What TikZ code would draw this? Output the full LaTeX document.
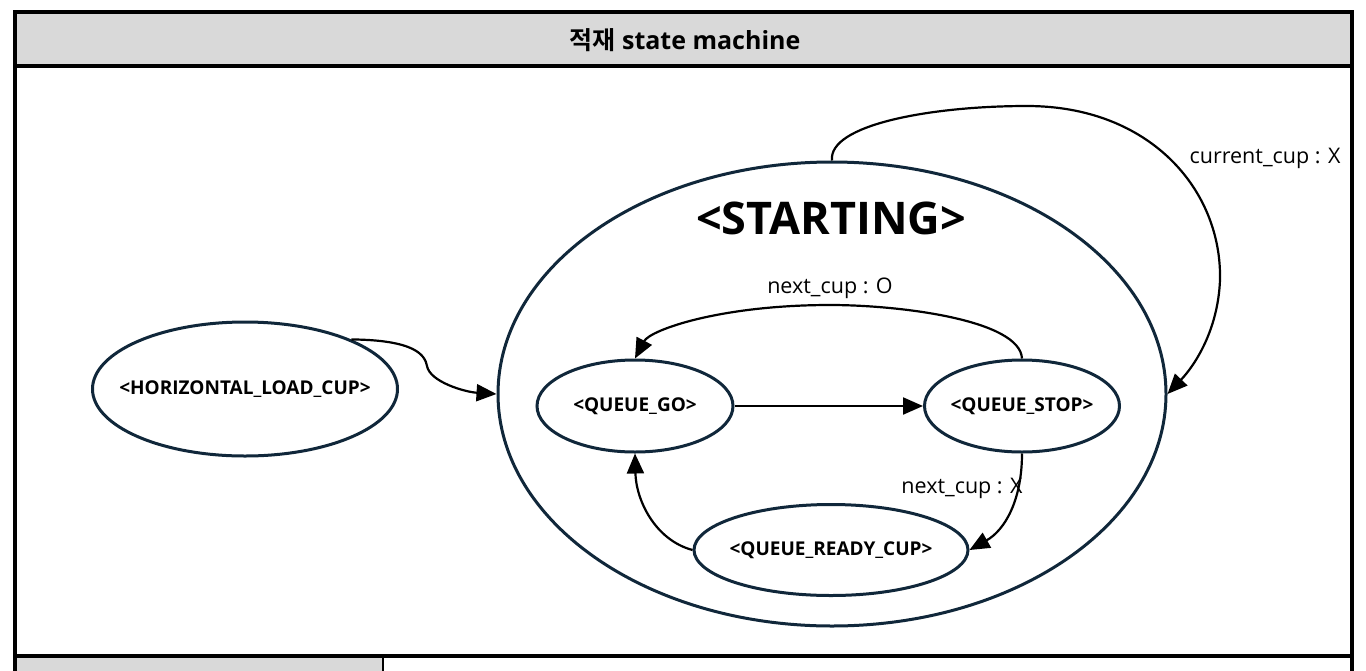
\documentclass[tikz,border=0pt]{standalone}
\usepackage{fontspec}
\setmainfont{Open Sans}
\newfontfamily\kr{Noto Sans CJK KR}[BoldFont={Noto Sans CJK KR Bold}]
\usetikzlibrary{shapes.geometric,arrows.meta}
\definecolor{navy}{HTML}{10273A}
\definecolor{hdr}{HTML}{D9D9D9}
\tikzset{
  st/.style={ellipse,draw=navy,line width=3pt,inner sep=0pt},
  sttext/.style={font=\bfseries\fontsize{19}{21}\selectfont,inner sep=0pt},
  conn/.style={draw=black,line width=2.2pt,-{Triangle[length=20pt,width=17pt]}},
  lbl/.style={font=\fontsize{21.5}{24}\selectfont,inner sep=0pt},
  frame/.style={draw=black,line width=3.5pt}
}
\begin{document}
\begin{tikzpicture}[x=1pt,y=-1pt]
\useasboundingbox (0,0) rectangle (1366,670);
% frame and header
\fill[hdr] (15,12) rectangle (1352,66);
\fill[hdr] (15,656) rectangle (383,672);
\draw[frame] (15,12) rectangle (1352,66);
\draw[frame] (15,66) -- (15,672);
\draw[frame] (1352,66) -- (1352,672);
\draw[frame] (15,656) -- (1352,656);
\draw[line width=2.5pt] (383,656) -- (383,672);
\node[inner sep=0pt] (title) at (685,40) {\bfseries\fontsize{25}{28}\selectfont{\kr 적재} state machine};
% states
\node[st,minimum width=668pt,minimum height=464pt] (S) at (832,394) {};
\node[font=\bfseries\fontsize{45}{50}\selectfont,inner sep=0pt] (stxt) at (831,218) {<STARTING>};
\node[st,minimum width=305pt,minimum height=134pt] (H) at (245,389) {};
\node[sttext] (Ht) at (H.center) {<HORIZONTAL\_LOAD\_CUP>};
\node[st,minimum width=196pt,minimum height=92pt] (QG) at (635,406) {};
\node[sttext] (QGt) at (QG.center) {<QUEUE\_GO>};
\node[st,minimum width=195pt,minimum height=92pt] (QS) at (1022,406) {};
\node[sttext] (QSt) at (QS.center) {<QUEUE\_STOP>};
\node[st,minimum width=274pt,minimum height=91pt] (QR) at (831,550) {};
\node[sttext] (QRt) at (QR.center) {<QUEUE\_READY\_CUP>};
% connectors
\draw[conn] (H.25) .. controls (415,340) and (425,355) .. (427,366) .. controls (430,382) and (465,392) .. (S.west);
\draw[conn] (S.north) .. controls (828,125) and (930,106) .. (1027,106) .. controls (1150,106) and (1222,190) .. (1220,280) .. controls (1218,330) and (1195,365) .. (S.east);
\draw[conn] (QS.north) .. controls (1020,320) and (900,305) .. (830,305) .. controls (720,305) and (650,330) .. (QG.north);
\draw[conn] (QG.east) -- (QS.west);
\draw[conn] (QS.south) .. controls (1022,500) and (1005,530) .. (QR.east);
\draw[conn] (QR.west) .. controls (655,540) and (636,500) .. (QG.south);
% labels
\node[lbl] (l1) at (1265,158) {current\_cup : X};
\node[lbl] (l2) at (830,288) {next\_cup : O};
\node[lbl] (l3) at (962,488) {next\_cup : X};
\end{tikzpicture}
\end{document}
